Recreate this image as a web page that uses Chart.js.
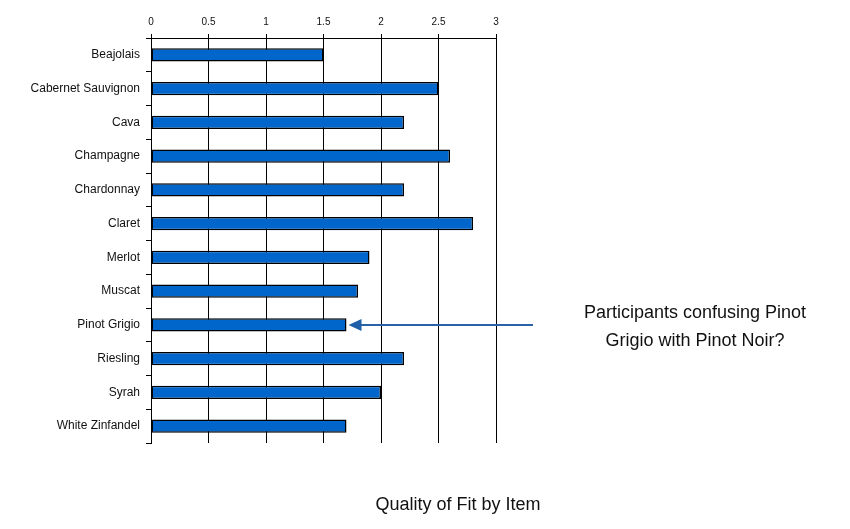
<!DOCTYPE html>
<html>
<head>
<meta charset="utf-8">
<script src="https://cdn.jsdelivr.net/npm/chart.js@4"></script>
<style>
  body { margin: 0; background: #fff; }
  #wrap { width: 850px; height: 529px; }
</style>
</head>
<body>
<div id="wrap"><canvas id="fitChart"></canvas></div>
<script>
const items = ['Beajolais', 'Cabernet Sauvignon', 'Cava', 'Champagne', 'Chardonnay', 'Claret',
               'Merlot', 'Muscat', 'Pinot Grigio', 'Riesling', 'Syrah', 'White Zinfandel'];
const fitValues = [1.5, 2.5, 2.2, 2.6, 2.2, 2.8, 1.9, 1.8, 1.7, 2.2, 2.0, 1.7];
const axisTicks = [0, 0.5, 1, 1.5, 2, 2.5, 3];
const chartTitle = 'Quality of Fit by Item';
const noteLines = ['Participants confusing Pinot', 'Grigio with Pinot Noir?'];
const noteItem = 'Pinot Grigio';

// title under the plot and the arrow note pointing at one bar
const extras = {
    id: 'extras',
    afterDraw(chart) {
        const c = chart.ctx;
        const xs = chart.scales.x, ys = chart.scales.y;
        const idx = items.indexOf(noteItem);
        const yMid = ys.getPixelForValue(idx);
        const tipX = xs.getPixelForValue(fitValues[idx]) + 2;
        const startX = chart.chartArea.right + 37;

        c.save();
        c.strokeStyle = '#2a62a8';
        c.fillStyle = '#1f5fa8';
        c.lineWidth = 2;
        c.beginPath();
        c.moveTo(startX, yMid);
        c.lineTo(tipX + 10, yMid);
        c.stroke();
        c.beginPath();
        c.moveTo(tipX, yMid);
        c.lineTo(tipX + 13, yMid - 6);
        c.lineTo(tipX + 13, yMid + 6);
        c.closePath();
        c.fill();

        c.fillStyle = '#111';
        c.textAlign = 'center';
        c.textBaseline = 'middle';
        c.font = '18px "Liberation Sans", Arial, sans-serif';
        c.fillText(noteLines[0], 695, yMid - 12);
        c.fillText(noteLines[1], 695, yMid + 16);

        c.fillText(chartTitle, 458, 505);
        c.restore();
    }
};

window.onload = function() {
    const ctx = document.getElementById('fitChart').getContext('2d');
    new Chart(ctx, {
        type: 'bar',
        data: {
            labels: items,
            datasets: [{
                data: fitValues,
                backgroundColor: '#0066cc',
                borderColor: '#000',
                borderWidth: 1.5,
                borderSkipped: false,
                barPercentage: 0.39,
                categoryPercentage: 1
            }]
        },
        options: {
            indexAxis: 'y',
            responsive: true,
            maintainAspectRatio: false,
            animation: false,
            layout: { padding: { left: 0, right: 354, top: 0, bottom: 86 } },
            plugins: { legend: { display: false }, tooltip: { enabled: false } },
            scales: {
                x: {
                    position: 'top',
                    min: 0,
                    max: 3,
                    afterBuildTicks: s => { s.ticks = axisTicks.map(v => ({ value: v })); },
                    afterFit: s => { s.height = 38; },
                    grid: { color: '#000', lineWidth: 1, tickLength: 4 },
                    border: { color: '#000', width: 1 },
                    ticks: {
                        color: '#111',
                        padding: 6,
                        maxRotation: 0,
                        callback: v => String(v),
                        font: { family: '"Liberation Sans", Arial, sans-serif', size: 10 }
                    }
                },
                y: {
                    afterFit: s => { s.width = 151; },
                    grid: { drawOnChartArea: false, color: '#000', tickLength: 5, offset: true },
                    border: { color: '#000', width: 1 },
                    ticks: {
                        color: '#111',
                        padding: 6,
                        font: { family: '"Liberation Sans", Arial, sans-serif', size: 12 }
                    }
                }
            }
        },
        plugins: [extras]
    });
};
</script>
</body>
</html>
